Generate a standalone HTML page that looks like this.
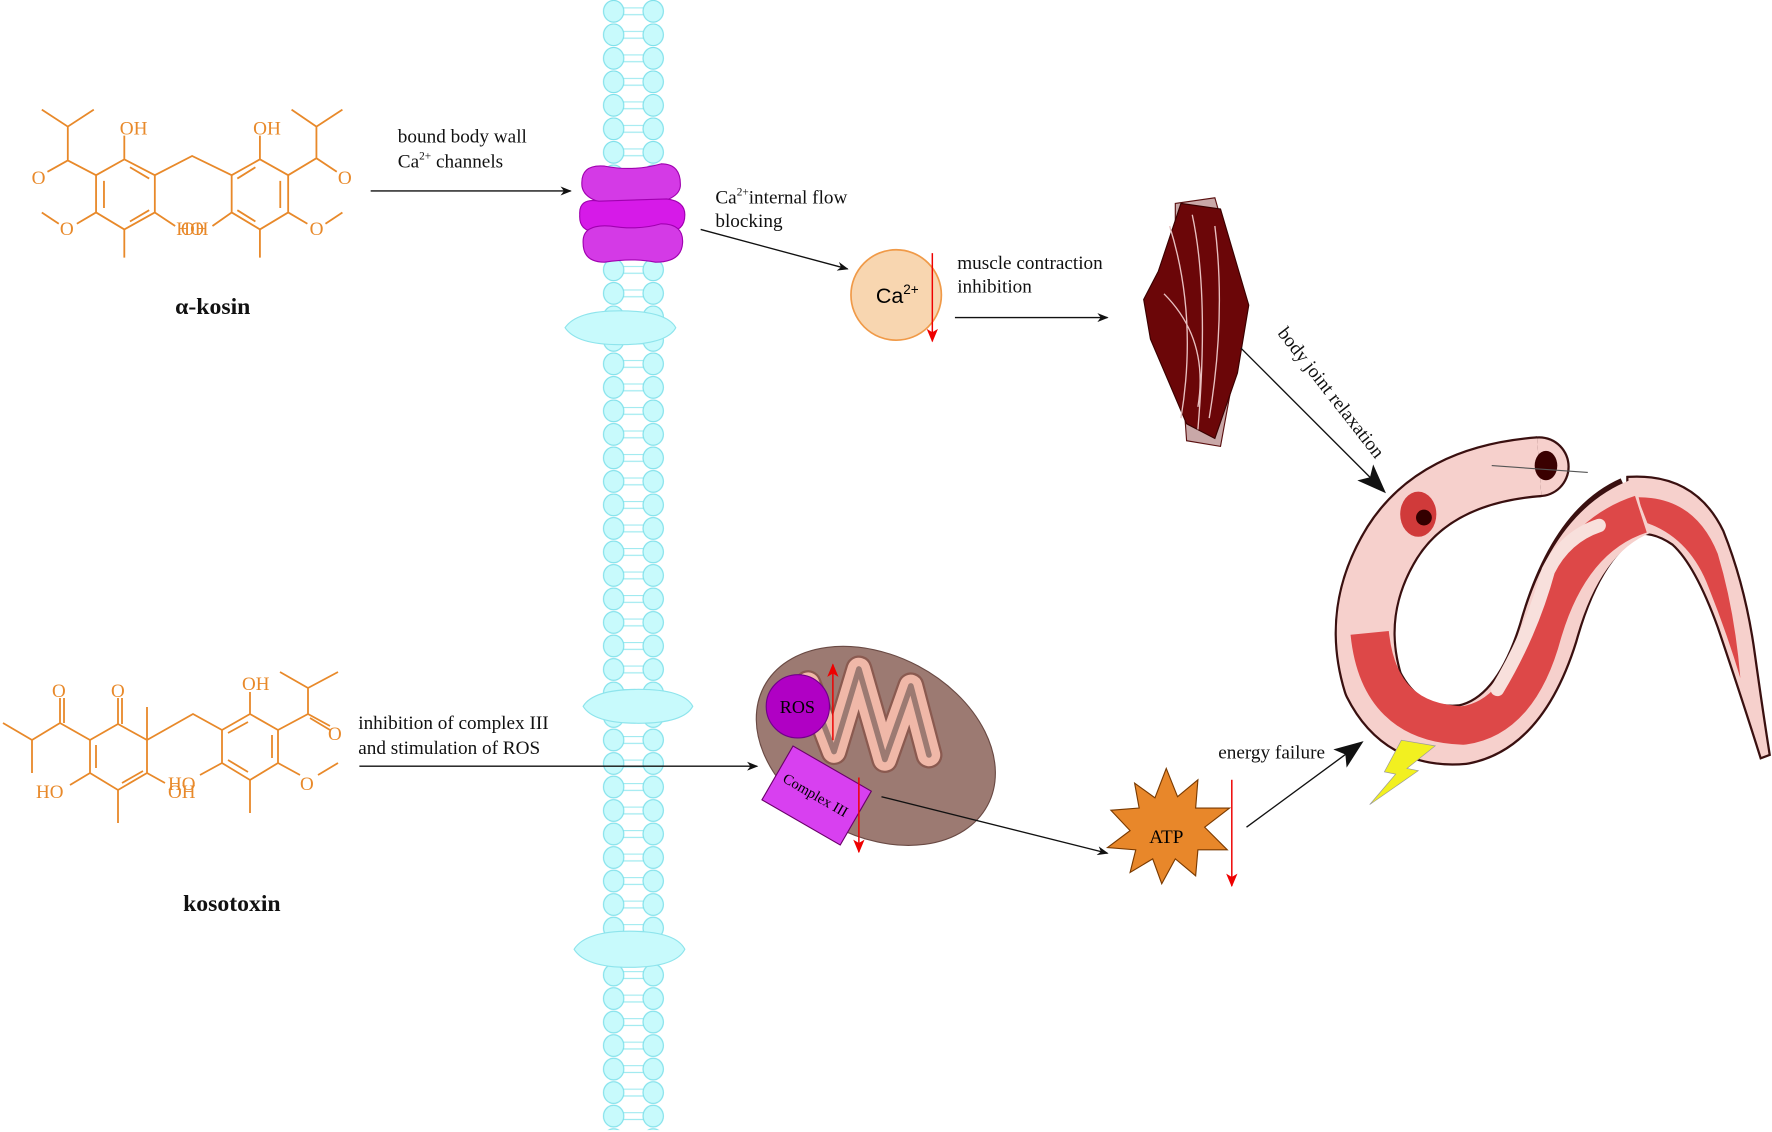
<!DOCTYPE html>
<html><head><meta charset="utf-8"><style>
html,body{margin:0;padding:0;background:#fff;}
svg{display:block;}
text{font-family:"Liberation Serif",serif;}
</style></head><body>
<svg width="1772" height="1132" viewBox="0 0 1772 1132" xmlns="http://www.w3.org/2000/svg">
<defs>
<marker id="ah" markerWidth="10" markerHeight="8" refX="9" refY="4" orient="auto" markerUnits="userSpaceOnUse"><path d="M0,0 L10,4 L0,8 L3,4z" fill="#111"/></marker>
<marker id="ahb" markerWidth="26" markerHeight="20" refX="24" refY="10" orient="auto" markerUnits="userSpaceOnUse"><path d="M0,0 L26,10 L0,20 L6,10z" fill="#111"/></marker>
<marker id="rh" markerWidth="12" markerHeight="10" refX="11" refY="5" orient="auto" markerUnits="userSpaceOnUse"><path d="M0,0 L12,5 L0,10 L3,5z" fill="#e00"/></marker>
<pattern id="mem" x="0" y="0" width="1772" height="20.8" patternUnits="userSpaceOnUse">
<line x1="550" y1="7" x2="571" y2="7" stroke="#9feaf0" stroke-width="1"/>
<line x1="550" y1="13" x2="571" y2="13" stroke="#9feaf0" stroke-width="1"/>
<ellipse cx="543" cy="10" rx="9" ry="9.6" fill="#c8fafc" stroke="#7ee0ea"/>
<ellipse cx="578" cy="10" rx="9" ry="9.6" fill="#c8fafc" stroke="#7ee0ea"/>
</pattern>
</defs>
<g transform="scale(1.1301)">
<!-- membrane -->
<rect x="530" y="0" width="60" height="1000" fill="url(#mem)"/>
<g fill="#c8fafc" stroke="#8ee4ec">
<path d="M500,290 Q510,275 548,275 Q590,275 598,290 Q590,305 548,305 Q510,305 500,290z"/>
<path d="M516,625 Q525,610 565,610 Q605,610 613,625 Q605,640 565,640 Q525,640 516,625z"/>
<path d="M508,840 Q518,824 557,824 Q598,824 606,840 Q598,856 557,856 Q518,856 508,840z"/>
</g>
<!-- channel -->
<g stroke="#a000b0" stroke-width="1">
<path d="M515,165 Q513,145 535,147 Q560,152 585,145 Q603,145 602,165 Q600,180 560,182 Q518,182 515,165z" fill="#d43ae6"/>
<path d="M513,190 Q512,175 530,178 L590,176 Q606,178 606,190 Q606,205 590,205 L528,205 Q512,205 513,190z" fill="#d61ae8"/>
<path d="M516,215 Q515,198 540,200 Q565,204 585,198 Q605,198 604,215 Q603,232 580,232 Q560,228 535,232 Q516,232 516,215z" fill="#d43ae6"/>
</g>
<!-- Ca -->
<circle cx="793" cy="261" r="40" fill="#f8d6b0" stroke="#f09a48" stroke-width="1.5"/>
<text x="775" y="268" font-size="19" style="font-family:'Liberation Sans',sans-serif">Ca<tspan font-size="12" dy="-8">2+</tspan></text>
<line x1="825" y1="224" x2="825" y2="302" stroke="#e00" stroke-width="1.3" marker-end="url(#rh)"/>
<!-- muscle -->
<path d="M1040,180 L1075,175 L1085,210 L1090,340 L1080,395 L1050,390 L1040,250z" fill="#c9a8a8" stroke="#5a1010"/>
<path d="M1025,240 L1045,180 L1080,185 L1105,270 L1095,330 L1075,388 L1050,375 L1018,300 L1012,265z" fill="#6b0608" stroke="#3a0000"/>
<path d="M1035,200 Q1060,280 1045,370 M1055,190 Q1070,260 1060,380 M1075,200 Q1085,280 1070,370 M1030,260 Q1070,300 1060,360" stroke="#e8c0c0" stroke-width="1.2" fill="none"/>
<!-- mitochondrion -->
<ellipse cx="775" cy="660" rx="112" ry="80" transform="rotate(28 775 660)" fill="#9c7a72" stroke="#6a4a44"/>
<path d="M715,605 L738,665 L760,592 L783,672 L806,607 L822,668" stroke="#8a5a50" stroke-width="24" fill="none" stroke-linejoin="round" stroke-linecap="round"/>
<path d="M715,605 L738,665 L760,592 L783,672 L806,607 L822,668" stroke="#f0b8a8" stroke-width="20" fill="none" stroke-linejoin="round" stroke-linecap="round"/>
<path d="M715,605 L738,665 L760,592 L783,672 L806,607 L822,668" stroke="#9c7a72" stroke-width="5" fill="none" stroke-linejoin="round" stroke-linecap="round"/>
<circle cx="706" cy="625" r="28" fill="#b000c4" stroke="#70008a"/>
<text x="690" y="631" font-size="16">ROS</text>
<line x1="737" y1="655" x2="737" y2="588" stroke="#e00" stroke-width="1.3" marker-end="url(#rh)"/>
<g transform="rotate(30 722 703)"><rect x="683" y="676" width="80" height="55" fill="#d840f0" stroke="#6a006a"/><text x="690" y="708" font-size="13">Complex III</text></g>
<line x1="760" y1="688" x2="760" y2="754" stroke="#e00" stroke-width="1.3" marker-end="url(#rh)"/>
<!-- ATP -->
<path d="M1032,680 L1042,705 L1060,690 L1058,715 L1088,715 L1066,732 L1086,752 L1060,752 L1058,775 L1040,760 L1028,782 L1020,760 L1000,772 L1005,752 L980,750 L1000,735 L983,717 L1008,715 L1004,693 L1022,706z" fill="#e8872a" stroke="#7a3a00"/>
<text x="1017" y="746" font-size="17">ATP</text>
<line x1="1090" y1="690" x2="1090" y2="784" stroke="#e00" stroke-width="1.3" marker-end="url(#rh)"/>
<!-- worm -->
<path d="M1440,422 Q1500,418 1525,470 Q1545,520 1553,580 Q1560,630 1566,668 L1558,671 Q1542,620 1520,555 Q1500,500 1480,482 Q1460,468 1440,474z" fill="#f6d0cc" stroke="#3a1010" stroke-width="2"/>
<path d="M1450,440 Q1500,440 1520,490 Q1535,540 1540,600 Q1528,560 1512,520 Q1495,475 1455,462z" fill="#dd4848"/>
<circle cx="1362" cy="413" r="27" fill="#3a1010"/>
<circle cx="1362" cy="413" r="25" fill="#f6d0cc"/>
<g fill="none" stroke-linecap="butt" stroke-linejoin="round">
<path d="M1362,413 Q1270,420 1232,480 Q1195,540 1215,605 Q1240,655 1295,650 Q1345,640 1370,560 Q1395,470 1445,448" stroke="#3a1010" stroke-width="54"/>
<path d="M1362,413 Q1270,420 1232,480 Q1195,540 1215,605 Q1240,655 1295,650 Q1345,640 1370,560 Q1395,470 1452,448" stroke="#f6d0cc" stroke-width="50"/>
<path d="M1212,560 Q1220,640 1295,642 Q1345,635 1365,560 Q1390,475 1452,455" stroke="#dd4848" stroke-width="34"/>
<path d="M1325,610 Q1355,560 1370,505 Q1385,475 1415,465" stroke="#f8e0dc" stroke-width="12" stroke-linecap="round"/>
</g>
<ellipse cx="1368" cy="412" rx="10" ry="13" fill="#3a0000"/>
<line x1="1320" y1="412" x2="1405" y2="418" stroke="#555" stroke-width="1"/>
<ellipse cx="1255" cy="455" rx="16" ry="20" fill="#d03a3a"/>
<circle cx="1260" cy="458" r="7" fill="#300"/>
<path d="M1240,655 L1270,660 L1245,680 L1255,682 L1212,712 L1235,685 L1225,683z" fill="#f2f020" stroke="#999" stroke-width="0.6"/>
<!-- arrows -->
<g stroke="#111" stroke-width="1.2" fill="none">
<line x1="328" y1="169" x2="505" y2="169" marker-end="url(#ah)"/>
<line x1="620" y1="203" x2="750" y2="238" marker-end="url(#ah)"/>
<line x1="845" y1="281" x2="980" y2="281" marker-end="url(#ah)"/>
<line x1="1098" y1="308" x2="1225" y2="435" marker-end="url(#ahb)"/>
<line x1="318" y1="678" x2="670" y2="678" marker-end="url(#ah)"/>
<line x1="780" y1="705" x2="980" y2="755" marker-end="url(#ah)"/>
<line x1="1103" y1="732" x2="1205" y2="657" marker-end="url(#ahb)"/>
</g>
<!-- labels -->
<g font-size="17" fill="#111">
<text x="352" y="126">bound body wall</text>
<text x="352" y="148">Ca<tspan font-size="10" dy="-7">2+</tspan><tspan dy="7"> channels</tspan></text>
<text x="633" y="180">Ca<tspan font-size="10" dy="-7">2+</tspan><tspan dy="7">internal flow</tspan></text>
<text x="633" y="201">blocking</text>
<text x="847" y="238">muscle contraction</text>
<text x="847" y="259">inhibition</text>
<text x="1130" y="295" transform="rotate(52 1130 295)">body joint relaxation</text>
<text x="317" y="645">inhibition of complex III</text>
<text x="317" y="667">and stimulation of ROS</text>
<text x="1078" y="671">energy failure</text>
<text x="155" y="278" font-size="21" font-weight="bold">α-kosin</text>
<text x="162" y="806" font-size="21" font-weight="bold">kosotoxin</text>
</g>
<!-- alpha-kosin -->
<g stroke="#e8892a" stroke-width="1.6" fill="none">
<path d="M37,97 L60,112 L83,97 M60,112 L60,142 L85,155 M60,142 L42,152"/>
<path d="M85,155 L110,141 L137,155 L137,188 L110,203 L85,188z M92,160 L92,184 M115,148 L132,158 M115,196 L132,186"/>
<path d="M110,141 L110,120 M137,155 L170,138 L205,155 M137,188 L155,200 M110,203 L110,228 M85,188 L68,198 M52,198 L37,188"/>
<path d="M205,155 L230,141 L255,155 L255,188 L230,203 L205,188z M248,160 L248,184 M210,158 L226,148 M210,186 L226,196"/>
<path d="M230,141 L230,120 M255,155 L280,140 L298,152 M280,140 L280,112 L258,97 M280,112 L303,97 M255,188 L272,198 M288,198 L303,188 M230,203 L230,228 M205,188 L188,200"/>
</g>
<g fill="#e8892a" font-size="17">
<text x="106" y="119">OH</text><text x="224" y="119">OH</text>
<text x="28" y="163">O</text><text x="299" y="163">O</text>
<text x="53" y="208">O</text><text x="274" y="208">O</text>
<text x="156" y="208">HO</text><text x="160" y="208">OH</text>
</g>
</g>
<!-- kosotoxin (actual coords) -->
<g stroke="#e8892a" stroke-width="1.8" fill="none">
<path d="M3,723 L32,740 L32,773 M32,740 L60,723 L60,698 M64,723 L64,698 M60,723 L90,740"/>
<path d="M90,740 L118,724 L147,740 L147,773 L118,790 L90,773z M96,745 L96,768 M122,783 L143,771"/>
<path d="M118,724 L118,698 M122,724 L122,698 M147,740 L147,707 M118,790 L118,823 M90,773 L70,785 M147,773 L165,783 M147,740 L193,714 L222,730"/>
<path d="M222,730 L250,714 L278,730 L278,763 L250,780 L222,763z M228,733 L248,722 M272,735 L272,758 M228,760 L248,772"/>
<path d="M250,714 L250,692 M278,730 L308,714 L330,726 M310,718 L330,730 M308,714 L308,688 L280,672 M308,688 L338,672 M278,763 L300,775 M318,775 L338,763 M250,780 L250,813 M222,763 L200,775"/>
</g>
<g fill="#e8892a" font-size="19">
<text x="52" y="697">O</text><text x="111" y="697">O</text>
<text x="242" y="690">OH</text><text x="328" y="740">O</text>
<text x="36" y="798">HO</text><text x="168" y="790">HO</text><text x="168" y="798">OH</text>
<text x="300" y="790">O</text>
</g>
</svg>
</body></html>
